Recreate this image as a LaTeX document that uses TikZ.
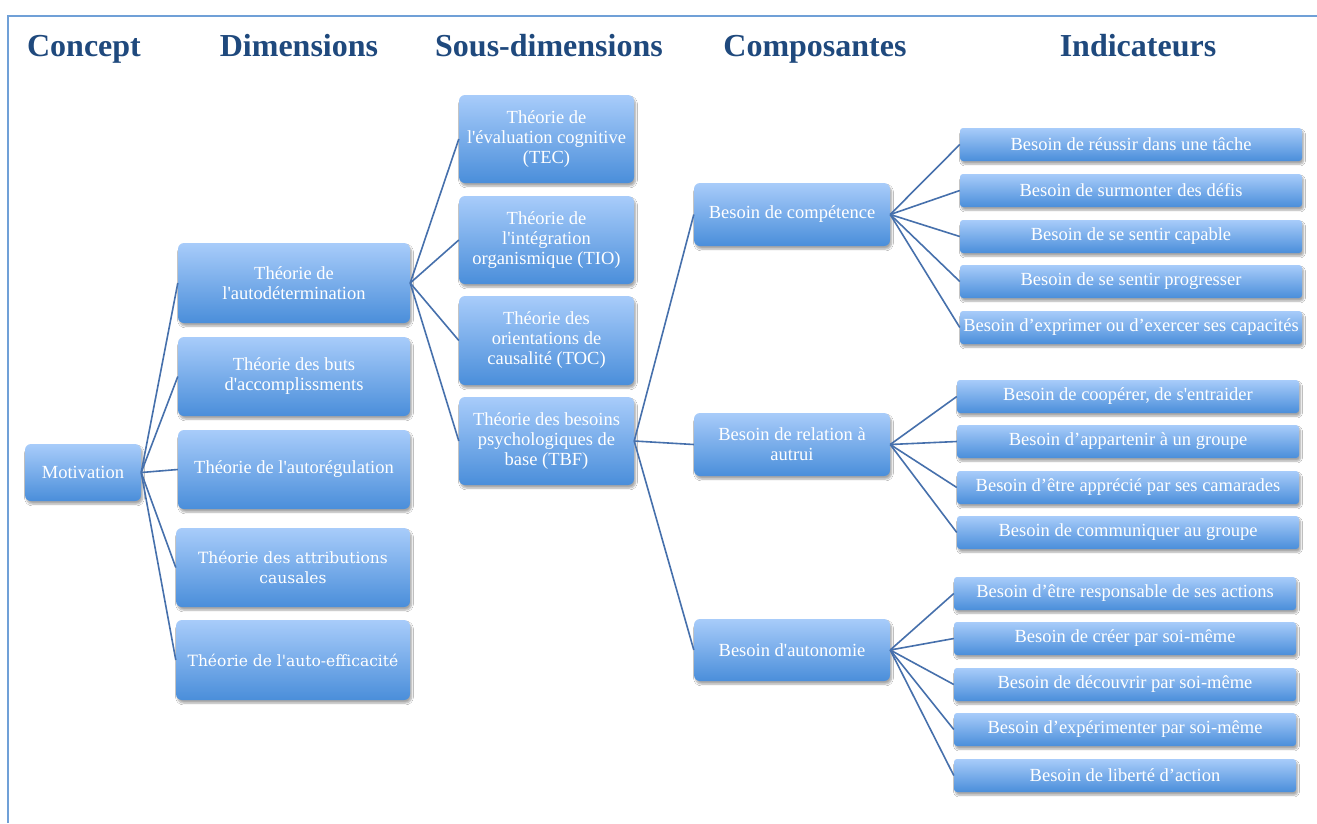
\documentclass[tikz,border=0pt]{standalone}
\usepackage{fontspec}
\setmainfont{Liberation Serif}
\newfontfamily\camfont{DejaVu Serif}
\usetikzlibrary{shadows.blur}
\definecolor{hdr}{RGB}{31,73,125}
\definecolor{boxtop}{RGB}{168,204,250}
\definecolor{boxbot}{RGB}{74,142,218}
\definecolor{link}{RGB}{70,112,172}
\definecolor{framec}{RGB}{112,160,215}
\newcommand{\myq}{\textquotesingle}
\begin{document}
\begin{tikzpicture}[x=1pt,y=-1pt,
  bx/.style={rounded corners=6pt, top color=boxtop, bottom color=boxbot, text=white,
    align=center, font=\fontsize{18.5}{20}\selectfont, inner sep=2pt,
    blur shadow={shadow xshift=1.5pt, shadow yshift=-3pt, shadow opacity=35, shadow blur steps=6}},
  cam/.style={font=\camfont\fontsize{15.5}{20}\selectfont},
  hd/.style={text=hdr, font=\fontsize{32}{36}\selectfont\bfseries, anchor=base},
  ln/.style={draw=link, line width=1.6pt},
  dim/.style={bx, minimum width=232pt, minimum height=79pt},
  sub/.style={bx, minimum width=175pt, minimum height=88pt},
  cmp/.style={bx, minimum width=196pt, minimum height=63pt},
  ind/.style={bx, minimum width=342pt, minimum height=33pt, rounded corners=3pt}]
\useasboundingbox (0,0) rectangle (1317,823);
\fill[white] (0,0) rectangle (1317,823);
\draw[framec, line width=2pt] (8,823) -- (8,16) -- (1317,16);

% headers
\node[hd] (h1) at (84,56) {Concept};
\node[hd] (h2) at (299,56) {Dimensions};
\node[hd] (h3) at (549,56) {Sous-dimensions};
\node[hd] (h4) at (815,56) {Composantes};
\node[hd] (h5) at (1138,56) {Indicateurs};

% concept
\node[bx, minimum width=116pt, minimum height=57pt] (mot) at (83,472.5) {Motivation};

% dimensions
\node[dim, minimum height=80pt] (ta) at (294,283) {Théorie de\\l\myq autodétermination};
\node[dim] (tb) at (294,376.5) {Théorie des buts\\d\myq accomplissments};
\node[dim] (tr) at (294,469.5) {Théorie de l\myq autorégulation};
\node[dim, cam, minimum width=234pt] (tac) at (293,567.5) {Théorie des attributions\\causales};
\node[dim, cam, minimum width=234pt, minimum height=80pt] (tae) at (293,660) {Théorie de l\myq auto-efficacité};

% sous-dimensions
\node[sub] (tec) at (546.5,139) {Théorie de\\l\myq évaluation cognitive\\(TEC)};
\node[sub] (tio) at (546.5,240) {Théorie de\\l\myq intégration\\organismique (TIO)};
\node[sub, minimum height=89pt] (toc) at (546.5,340.5) {Théorie des\\orientations de\\causalité (TOC)};
\node[sub] (tbf) at (546.5,441) {Théorie des besoins\\psychologiques de\\base (TBF)};

% composantes
\node[cmp] (comp) at (792,214.5) {Besoin de compétence};
\node[cmp] (rel) at (792,444.5) {Besoin de relation à\\autrui};
\node[cmp, minimum height=62pt] (aut) at (792,650) {Besoin d\myq autonomie};

% indicateurs
\node[ind] (c1) at (1131,144.5) {Besoin de réussir dans une tâche};
\node[ind] (c2) at (1131,190.5) {Besoin de surmonter des défis};
\node[ind] (c3) at (1131,236.5) {Besoin de se sentir capable};
\node[ind] (c4) at (1131,281.5) {Besoin de se sentir progresser};
\node[ind] (c5) at (1131,327.5) {Besoin d’exprimer ou d’exercer ses capacités};

\node[ind] (r1) at (1128,396.5) {Besoin de coopérer, de s\myq entraider};
\node[ind] (r2) at (1128,441.5) {Besoin d’appartenir à un groupe};
\node[ind] (r3) at (1128,487.5) {Besoin d’être apprécié par ses camarades};
\node[ind] (r4) at (1128,532.5) {Besoin de communiquer au groupe};

\node[ind] (a1) at (1125,593.5) {Besoin d’être responsable de ses actions};
\node[ind] (a2) at (1125,638.5) {Besoin de créer par soi-même};
\node[ind] (a3) at (1125,684.5) {Besoin de découvrir par soi-même};
\node[ind] (a4) at (1125,729.5) {Besoin d’expérimenter par soi-même};
\node[ind] (a5) at (1125,775.5) {Besoin de liberté d’action};

% connectors
\foreach \t in {ta,tb,tr,tac,tae} \draw[ln] (mot.east) -- (\t.west);
\foreach \t in {tec,tio,toc,tbf} \draw[ln] (ta.east) -- (\t.west);
\foreach \t in {comp,rel,aut} \draw[ln] (tbf.east) -- (\t.west);
\foreach \t in {c1,c2,c3,c4,c5} \draw[ln] (comp.east) -- (\t.west);
\foreach \t in {r1,r2,r3,r4} \draw[ln] (rel.east) -- (\t.west);
\foreach \t in {a1,a2,a3,a4,a5} \draw[ln] (aut.east) -- (\t.west);
\end{tikzpicture}
\end{document}
